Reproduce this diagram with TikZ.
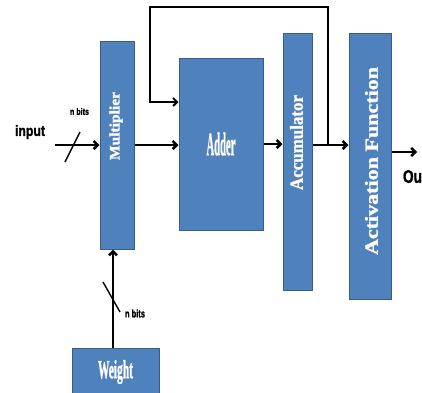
\documentclass[tikz,border=0pt]{standalone}
\usepackage{fontspec}
\setmainfont{Liberation Serif}
\setsansfont{Liberation Sans}
\usetikzlibrary{arrows.meta}

\definecolor{boxblue}{HTML}{4F81BD}
\definecolor{boxedge}{HTML}{385D8A}

% text squeezed to the size it has in the picture
\newcommand{\boxtext}[3]{\resizebox*{#1}{#2}{\bfseries\addfontfeature{FakeBold=1.5}#3}}
\newcommand{\sidetext}[3]{\rotatebox{90}{\resizebox*{#1}{#2}{\bfseries\addfontfeature{FakeBold=1.5}#3}}}
\newcommand{\labtext}[3]{\resizebox*{#1}{#2}{\sffamily\bfseries\addfontfeature{FakeBold=1.5}#3}}

\tikzset{
  block/.style={draw=boxedge, fill=boxblue, line width=1pt, inner sep=0pt, text=white},
  blocktext/.style={inner sep=0pt, text=white},
  plain/.style={inner sep=0pt},
  wire/.style={line width=2.6pt, -{Straight Barb[length=4pt,width=8pt]}},
  fbwire/.style={line width=2pt, -{Straight Barb[length=4pt,width=8pt]}},
  slash/.style={line width=1.4pt}
}

\begin{document}
\begin{tikzpicture}[x=1pt,y=-1pt]
				\useasboundingbox (0,0) rectangle (422,392);
				
				% Blocks
				\node[block, minimum width=34pt, minimum height=208pt] (mult) at (117,145) {};
				\node[block, minimum width=84pt, minimum height=172pt] (adder) at (221,144) {\boxtext{29pt}{23pt}{Adder}};
				\node[block, minimum width=29pt, minimum height=257pt] (accum) at (297.5,161.5) {};
				\node[block, minimum width=42pt, minimum height=266pt] (actfn) at (370,166) {};
				\node[block, minimum width=87pt, minimum height=48pt] (weight) at (115.5,372) {\boxtext{35pt}{24pt}{Weight}};
				
				% Block names standing on their side
				\node[blocktext] (multtxt) at (116,126) {\sidetext{68pt}{13pt}{Multiplier}};
				\node[blocktext] (accumtxt) at (296.5,142.5) {\sidetext{95pt}{13pt}{Accumulator}};
				\node[blocktext] (actfntxt) at (371.5,161) {\sidetext{188pt}{13pt}{Activation Function}};
				
				% Labels
				\node[plain] (inlab) at (30,132) {\labtext{30pt}{14pt}{input}};
				\node[plain] (nbitsin) at (79.5,111.5) {\labtext{19pt}{7pt}{n bits}};
				\node[plain] (nbitsw) at (135,313.5) {\labtext{20pt}{8pt}{n bits}};
				\node[plain] (outlab) at (412.5,176.5) {\labtext{19pt}{13pt}{Ou}};
				
				% Free ends and corners
				\coordinate (inend) at (55,145);
				\coordinate (outend) at (417,152);
				\coordinate (tap) at (328,145);
				\coordinate (fbleft) at (150,7);
				\coordinate (fbin) at (150,102);
				\coordinate (wtap) at (113,348);
				
				% Input bus into the multiplier
				\draw[wire] (inend) -- (mult.west);
				\draw[slash] (65,162) -- (80,132);
				
				% Weight bus into the multiplier
				\draw[wire] (wtap) -- (wtap |- mult.south);
				\draw[slash] (103,282) -- (120,312);
				
				% Main path
				\draw[wire] (mult.east) -- (mult.east -| adder.west);
				\draw[wire] (adder.east) -- (adder.east -| accum.west);
				\draw[wire] (accum.east |- tap) -- (actfn.west |- tap);
				\draw[wire] (actfn.east |- outend) -- (outend);
				
				% Feedback from the accumulator back to the adder
				\draw[fbwire] (tap) |- (fbleft) -- (fbin) -- (fbin -| adder.west);
				
			\end{tikzpicture}
\end{document}
